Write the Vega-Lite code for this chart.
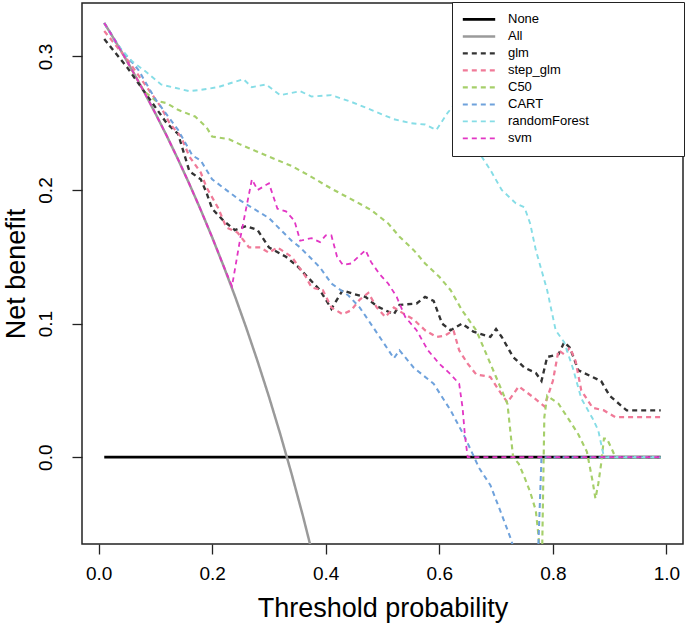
{
  "$schema": "https://vega.github.io/schema/vega-lite/v6.json",
  "width": 601,
  "height": 541,
  "autosize": {"type": "none"},
  "padding": {"left": 82, "top": 3, "right": 2, "bottom": 85},
  "background": "white",
  "config": {"view": {"stroke": "#222", "strokeWidth": 1.5}, "font": "Liberation Sans"},
  "datasets": {
    "curves": [
      {"model": "None", "pt": 0.01, "nb": 0}, {"model": "None", "pt": 0.99, "nb": 0},
      {"model": "All", "pt": 0.01, "nb": 0.325}, {"model": "All", "pt": 0.02, "nb": 0.3181}, {"model": "All", "pt": 0.04, "nb": 0.3039}, {"model": "All", "pt": 0.06, "nb": 0.289}, {"model": "All", "pt": 0.08, "nb": 0.2736}, {"model": "All", "pt": 0.1, "nb": 0.2574}, {"model": "All", "pt": 0.12, "nb": 0.2406}, {"model": "All", "pt": 0.14, "nb": 0.2229}, {"model": "All", "pt": 0.16, "nb": 0.2044}, {"model": "All", "pt": 0.18, "nb": 0.185}, {"model": "All", "pt": 0.2, "nb": 0.1646}, {"model": "All", "pt": 0.22, "nb": 0.1432}, {"model": "All", "pt": 0.24, "nb": 0.1207}, {"model": "All", "pt": 0.26, "nb": 0.0969}, {"model": "All", "pt": 0.28, "nb": 0.0718}, {"model": "All", "pt": 0.3, "nb": 0.0453}, {"model": "All", "pt": 0.32, "nb": 0.0172}, {"model": "All", "pt": 0.34, "nb": -0.0126}, {"model": "All", "pt": 0.36, "nb": -0.0442}, {"model": "All", "pt": 0.38, "nb": -0.0779}, {"model": "All", "pt": 0.4, "nb": -0.1138},
      {"model": "glm", "pt": 0.01, "nb": 0.313}, {"model": "glm", "pt": 0.05, "nb": 0.292}, {"model": "glm", "pt": 0.09, "nb": 0.268}, {"model": "glm", "pt": 0.12, "nb": 0.25}, {"model": "glm", "pt": 0.14, "nb": 0.242}, {"model": "glm", "pt": 0.15, "nb": 0.228}, {"model": "glm", "pt": 0.16, "nb": 0.214}, {"model": "glm", "pt": 0.18, "nb": 0.208}, {"model": "glm", "pt": 0.19, "nb": 0.198}, {"model": "glm", "pt": 0.2, "nb": 0.186}, {"model": "glm", "pt": 0.22, "nb": 0.177}, {"model": "glm", "pt": 0.24, "nb": 0.17}, {"model": "glm", "pt": 0.26, "nb": 0.173}, {"model": "glm", "pt": 0.28, "nb": 0.17}, {"model": "glm", "pt": 0.3, "nb": 0.157}, {"model": "glm", "pt": 0.33, "nb": 0.15}, {"model": "glm", "pt": 0.35, "nb": 0.143}, {"model": "glm", "pt": 0.37, "nb": 0.134}, {"model": "glm", "pt": 0.39, "nb": 0.125}, {"model": "glm", "pt": 0.41, "nb": 0.111}, {"model": "glm", "pt": 0.43, "nb": 0.125}, {"model": "glm", "pt": 0.45, "nb": 0.122}, {"model": "glm", "pt": 0.47, "nb": 0.12}, {"model": "glm", "pt": 0.49, "nb": 0.113}, {"model": "glm", "pt": 0.52, "nb": 0.107}, {"model": "glm", "pt": 0.53, "nb": 0.114}, {"model": "glm", "pt": 0.56, "nb": 0.115}, {"model": "glm", "pt": 0.575, "nb": 0.12}, {"model": "glm", "pt": 0.59, "nb": 0.117}, {"model": "glm", "pt": 0.605, "nb": 0.1}, {"model": "glm", "pt": 0.62, "nb": 0.095}, {"model": "glm", "pt": 0.64, "nb": 0.1}, {"model": "glm", "pt": 0.66, "nb": 0.094}, {"model": "glm", "pt": 0.69, "nb": 0.09}, {"model": "glm", "pt": 0.7, "nb": 0.096}, {"model": "glm", "pt": 0.71, "nb": 0.09}, {"model": "glm", "pt": 0.73, "nb": 0.075}, {"model": "glm", "pt": 0.75, "nb": 0.067}, {"model": "glm", "pt": 0.77, "nb": 0.063}, {"model": "glm", "pt": 0.78, "nb": 0.057}, {"model": "glm", "pt": 0.79, "nb": 0.075}, {"model": "glm", "pt": 0.81, "nb": 0.077}, {"model": "glm", "pt": 0.82, "nb": 0.086}, {"model": "glm", "pt": 0.83, "nb": 0.082}, {"model": "glm", "pt": 0.845, "nb": 0.065}, {"model": "glm", "pt": 0.87, "nb": 0.06}, {"model": "glm", "pt": 0.885, "nb": 0.057}, {"model": "glm", "pt": 0.9, "nb": 0.046}, {"model": "glm", "pt": 0.93, "nb": 0.035}, {"model": "glm", "pt": 0.99, "nb": 0.035},
      {"model": "step_glm", "pt": 0.01, "nb": 0.319}, {"model": "step_glm", "pt": 0.05, "nb": 0.298}, {"model": "step_glm", "pt": 0.08, "nb": 0.28}, {"model": "step_glm", "pt": 0.11, "nb": 0.262}, {"model": "step_glm", "pt": 0.125, "nb": 0.25}, {"model": "step_glm", "pt": 0.145, "nb": 0.24}, {"model": "step_glm", "pt": 0.16, "nb": 0.225}, {"model": "step_glm", "pt": 0.18, "nb": 0.213}, {"model": "step_glm", "pt": 0.19, "nb": 0.202}, {"model": "step_glm", "pt": 0.21, "nb": 0.187}, {"model": "step_glm", "pt": 0.225, "nb": 0.172}, {"model": "step_glm", "pt": 0.245, "nb": 0.168}, {"model": "step_glm", "pt": 0.265, "nb": 0.157}, {"model": "step_glm", "pt": 0.285, "nb": 0.157}, {"model": "step_glm", "pt": 0.3, "nb": 0.153}, {"model": "step_glm", "pt": 0.315, "nb": 0.157}, {"model": "step_glm", "pt": 0.34, "nb": 0.15}, {"model": "step_glm", "pt": 0.365, "nb": 0.135}, {"model": "step_glm", "pt": 0.375, "nb": 0.127}, {"model": "step_glm", "pt": 0.395, "nb": 0.125}, {"model": "step_glm", "pt": 0.41, "nb": 0.112}, {"model": "step_glm", "pt": 0.43, "nb": 0.107}, {"model": "step_glm", "pt": 0.445, "nb": 0.11}, {"model": "step_glm", "pt": 0.46, "nb": 0.118}, {"model": "step_glm", "pt": 0.475, "nb": 0.123}, {"model": "step_glm", "pt": 0.49, "nb": 0.112}, {"model": "step_glm", "pt": 0.505, "nb": 0.105}, {"model": "step_glm", "pt": 0.52, "nb": 0.112}, {"model": "step_glm", "pt": 0.535, "nb": 0.108}, {"model": "step_glm", "pt": 0.555, "nb": 0.103}, {"model": "step_glm", "pt": 0.575, "nb": 0.095}, {"model": "step_glm", "pt": 0.595, "nb": 0.09}, {"model": "step_glm", "pt": 0.61, "nb": 0.091}, {"model": "step_glm", "pt": 0.625, "nb": 0.095}, {"model": "step_glm", "pt": 0.635, "nb": 0.08}, {"model": "step_glm", "pt": 0.65, "nb": 0.07}, {"model": "step_glm", "pt": 0.665, "nb": 0.062}, {"model": "step_glm", "pt": 0.69, "nb": 0.06}, {"model": "step_glm", "pt": 0.705, "nb": 0.05}, {"model": "step_glm", "pt": 0.72, "nb": 0.041}, {"model": "step_glm", "pt": 0.74, "nb": 0.053}, {"model": "step_glm", "pt": 0.765, "nb": 0.045}, {"model": "step_glm", "pt": 0.785, "nb": 0.038}, {"model": "step_glm", "pt": 0.8, "nb": 0.057}, {"model": "step_glm", "pt": 0.81, "nb": 0.08}, {"model": "step_glm", "pt": 0.82, "nb": 0.077}, {"model": "step_glm", "pt": 0.83, "nb": 0.082}, {"model": "step_glm", "pt": 0.84, "nb": 0.072}, {"model": "step_glm", "pt": 0.85, "nb": 0.05}, {"model": "step_glm", "pt": 0.87, "nb": 0.037}, {"model": "step_glm", "pt": 0.89, "nb": 0.035}, {"model": "step_glm", "pt": 0.91, "nb": 0.03}, {"model": "step_glm", "pt": 0.99, "nb": 0.03},
      {"model": "C50", "pt": 0.01, "nb": 0.325}, {"model": "C50", "pt": 0.04, "nb": 0.304}, {"model": "C50", "pt": 0.06, "nb": 0.289}, {"model": "C50", "pt": 0.08, "nb": 0.274}, {"model": "C50", "pt": 0.1, "nb": 0.267}, {"model": "C50", "pt": 0.12, "nb": 0.265}, {"model": "C50", "pt": 0.14, "nb": 0.26}, {"model": "C50", "pt": 0.17, "nb": 0.255}, {"model": "C50", "pt": 0.19, "nb": 0.247}, {"model": "C50", "pt": 0.2, "nb": 0.24}, {"model": "C50", "pt": 0.23, "nb": 0.238}, {"model": "C50", "pt": 0.25, "nb": 0.234}, {"model": "C50", "pt": 0.3, "nb": 0.225}, {"model": "C50", "pt": 0.34, "nb": 0.218}, {"model": "C50", "pt": 0.37, "nb": 0.211}, {"model": "C50", "pt": 0.41, "nb": 0.201}, {"model": "C50", "pt": 0.45, "nb": 0.192}, {"model": "C50", "pt": 0.48, "nb": 0.185}, {"model": "C50", "pt": 0.51, "nb": 0.175}, {"model": "C50", "pt": 0.53, "nb": 0.165}, {"model": "C50", "pt": 0.555, "nb": 0.155}, {"model": "C50", "pt": 0.575, "nb": 0.145}, {"model": "C50", "pt": 0.6, "nb": 0.135}, {"model": "C50", "pt": 0.62, "nb": 0.125}, {"model": "C50", "pt": 0.64, "nb": 0.11}, {"model": "C50", "pt": 0.665, "nb": 0.095}, {"model": "C50", "pt": 0.68, "nb": 0.08}, {"model": "C50", "pt": 0.7, "nb": 0.06}, {"model": "C50", "pt": 0.71, "nb": 0.05}, {"model": "C50", "pt": 0.72, "nb": 0.04}, {"model": "C50", "pt": 0.73, "nb": 0.0}, {"model": "C50", "pt": 0.74, "nb": -0.005}, {"model": "C50", "pt": 0.75, "nb": -0.015}, {"model": "C50", "pt": 0.76, "nb": -0.026}, {"model": "C50", "pt": 0.77, "nb": -0.04}, {"model": "C50", "pt": 0.775, "nb": -0.06}, {"model": "C50", "pt": 0.78, "nb": -0.1}, {"model": "C50", "pt": 0.785, "nb": 0.03}, {"model": "C50", "pt": 0.79, "nb": 0.046}, {"model": "C50", "pt": 0.81, "nb": 0.04}, {"model": "C50", "pt": 0.83, "nb": 0.027}, {"model": "C50", "pt": 0.845, "nb": 0.017}, {"model": "C50", "pt": 0.86, "nb": 0.004}, {"model": "C50", "pt": 0.87, "nb": -0.018}, {"model": "C50", "pt": 0.875, "nb": -0.031}, {"model": "C50", "pt": 0.88, "nb": -0.02}, {"model": "C50", "pt": 0.885, "nb": -0.005}, {"model": "C50", "pt": 0.89, "nb": 0.014}, {"model": "C50", "pt": 0.895, "nb": 0.014}, {"model": "C50", "pt": 0.905, "nb": 0.005}, {"model": "C50", "pt": 0.91, "nb": 0.0}, {"model": "C50", "pt": 0.99, "nb": 0.0},
      {"model": "CART", "pt": 0.01, "nb": 0.325}, {"model": "CART", "pt": 0.04, "nb": 0.305}, {"model": "CART", "pt": 0.07, "nb": 0.29}, {"model": "CART", "pt": 0.1, "nb": 0.268}, {"model": "CART", "pt": 0.14, "nb": 0.245}, {"model": "CART", "pt": 0.165, "nb": 0.226}, {"model": "CART", "pt": 0.18, "nb": 0.222}, {"model": "CART", "pt": 0.2, "nb": 0.208}, {"model": "CART", "pt": 0.25, "nb": 0.192}, {"model": "CART", "pt": 0.3, "nb": 0.179}, {"model": "CART", "pt": 0.34, "nb": 0.162}, {"model": "CART", "pt": 0.355, "nb": 0.157}, {"model": "CART", "pt": 0.39, "nb": 0.142}, {"model": "CART", "pt": 0.41, "nb": 0.13}, {"model": "CART", "pt": 0.44, "nb": 0.121}, {"model": "CART", "pt": 0.46, "nb": 0.112}, {"model": "CART", "pt": 0.495, "nb": 0.09}, {"model": "CART", "pt": 0.52, "nb": 0.074}, {"model": "CART", "pt": 0.53, "nb": 0.08}, {"model": "CART", "pt": 0.555, "nb": 0.067}, {"model": "CART", "pt": 0.59, "nb": 0.055}, {"model": "CART", "pt": 0.62, "nb": 0.035}, {"model": "CART", "pt": 0.645, "nb": 0.015}, {"model": "CART", "pt": 0.67, "nb": -0.008}, {"model": "CART", "pt": 0.69, "nb": -0.021}, {"model": "CART", "pt": 0.71, "nb": -0.043}, {"model": "CART", "pt": 0.725, "nb": -0.06}, {"model": "CART", "pt": 0.74, "nb": -0.08}, {"model": "CART", "pt": 0.77, "nb": -0.12}, {"model": "CART", "pt": 0.78, "nb": 0.0}, {"model": "CART", "pt": 0.99, "nb": 0.0},
      {"model": "randomForest", "pt": 0.01, "nb": 0.325}, {"model": "randomForest", "pt": 0.03, "nb": 0.31}, {"model": "randomForest", "pt": 0.06, "nb": 0.296}, {"model": "randomForest", "pt": 0.085, "nb": 0.288}, {"model": "randomForest", "pt": 0.11, "nb": 0.279}, {"model": "randomForest", "pt": 0.13, "nb": 0.277}, {"model": "randomForest", "pt": 0.16, "nb": 0.274}, {"model": "randomForest", "pt": 0.18, "nb": 0.275}, {"model": "randomForest", "pt": 0.21, "nb": 0.277}, {"model": "randomForest", "pt": 0.24, "nb": 0.281}, {"model": "randomForest", "pt": 0.255, "nb": 0.283}, {"model": "randomForest", "pt": 0.27, "nb": 0.277}, {"model": "randomForest", "pt": 0.295, "nb": 0.279}, {"model": "randomForest", "pt": 0.32, "nb": 0.271}, {"model": "randomForest", "pt": 0.355, "nb": 0.274}, {"model": "randomForest", "pt": 0.375, "nb": 0.27}, {"model": "randomForest", "pt": 0.41, "nb": 0.271}, {"model": "randomForest", "pt": 0.445, "nb": 0.266}, {"model": "randomForest", "pt": 0.48, "nb": 0.26}, {"model": "randomForest", "pt": 0.52, "nb": 0.253}, {"model": "randomForest", "pt": 0.55, "nb": 0.25}, {"model": "randomForest", "pt": 0.575, "nb": 0.249}, {"model": "randomForest", "pt": 0.595, "nb": 0.245}, {"model": "randomForest", "pt": 0.615, "nb": 0.258}, {"model": "randomForest", "pt": 0.635, "nb": 0.268}, {"model": "randomForest", "pt": 0.65, "nb": 0.255}, {"model": "randomForest", "pt": 0.66, "nb": 0.24}, {"model": "randomForest", "pt": 0.67, "nb": 0.228}, {"model": "randomForest", "pt": 0.69, "nb": 0.215}, {"model": "randomForest", "pt": 0.71, "nb": 0.2}, {"model": "randomForest", "pt": 0.735, "nb": 0.19}, {"model": "randomForest", "pt": 0.75, "nb": 0.187}, {"model": "randomForest", "pt": 0.76, "nb": 0.175}, {"model": "randomForest", "pt": 0.77, "nb": 0.155}, {"model": "randomForest", "pt": 0.79, "nb": 0.125}, {"model": "randomForest", "pt": 0.805, "nb": 0.095}, {"model": "randomForest", "pt": 0.82, "nb": 0.086}, {"model": "randomForest", "pt": 0.835, "nb": 0.067}, {"model": "randomForest", "pt": 0.85, "nb": 0.044}, {"model": "randomForest", "pt": 0.87, "nb": 0.029}, {"model": "randomForest", "pt": 0.88, "nb": 0.02}, {"model": "randomForest", "pt": 0.885, "nb": 0.01}, {"model": "randomForest", "pt": 0.89, "nb": 0.0}, {"model": "randomForest", "pt": 0.99, "nb": 0.0},
      {"model": "svm", "pt": 0.01, "nb": 0.325}, {"model": "svm", "pt": 0.02, "nb": 0.3181}, {"model": "svm", "pt": 0.04, "nb": 0.3039}, {"model": "svm", "pt": 0.06, "nb": 0.289}, {"model": "svm", "pt": 0.08, "nb": 0.2736}, {"model": "svm", "pt": 0.1, "nb": 0.2574}, {"model": "svm", "pt": 0.12, "nb": 0.2406}, {"model": "svm", "pt": 0.14, "nb": 0.2229}, {"model": "svm", "pt": 0.16, "nb": 0.2044}, {"model": "svm", "pt": 0.18, "nb": 0.185}, {"model": "svm", "pt": 0.2, "nb": 0.1646}, {"model": "svm", "pt": 0.22, "nb": 0.1432}, {"model": "svm", "pt": 0.235, "nb": 0.128}, {"model": "svm", "pt": 0.25, "nb": 0.165}, {"model": "svm", "pt": 0.27, "nb": 0.208}, {"model": "svm", "pt": 0.28, "nb": 0.2}, {"model": "svm", "pt": 0.3, "nb": 0.205}, {"model": "svm", "pt": 0.315, "nb": 0.186}, {"model": "svm", "pt": 0.33, "nb": 0.184}, {"model": "svm", "pt": 0.345, "nb": 0.177}, {"model": "svm", "pt": 0.355, "nb": 0.162}, {"model": "svm", "pt": 0.375, "nb": 0.164}, {"model": "svm", "pt": 0.39, "nb": 0.161}, {"model": "svm", "pt": 0.4, "nb": 0.166}, {"model": "svm", "pt": 0.41, "nb": 0.166}, {"model": "svm", "pt": 0.42, "nb": 0.15}, {"model": "svm", "pt": 0.43, "nb": 0.144}, {"model": "svm", "pt": 0.445, "nb": 0.145}, {"model": "svm", "pt": 0.47, "nb": 0.155}, {"model": "svm", "pt": 0.48, "nb": 0.146}, {"model": "svm", "pt": 0.495, "nb": 0.137}, {"model": "svm", "pt": 0.51, "nb": 0.13}, {"model": "svm", "pt": 0.525, "nb": 0.12}, {"model": "svm", "pt": 0.54, "nb": 0.105}, {"model": "svm", "pt": 0.56, "nb": 0.095}, {"model": "svm", "pt": 0.58, "nb": 0.08}, {"model": "svm", "pt": 0.6, "nb": 0.07}, {"model": "svm", "pt": 0.62, "nb": 0.062}, {"model": "svm", "pt": 0.635, "nb": 0.055}, {"model": "svm", "pt": 0.641, "nb": 0.037}, {"model": "svm", "pt": 0.645, "nb": 0.017}, {"model": "svm", "pt": 0.65, "nb": 0.0}, {"model": "svm", "pt": 0.99, "nb": 0.0}
    ]
  },
  "data": {"name": "curves"},
  "encoding": {
    "x": {
      "field": "pt", "type": "quantitative",
      "scale": {"domain": [-0.0292, 1.0292], "nice": false, "zero": false},
      "axis": {"values": [0, 0.2, 0.4, 0.6, 0.8, 1], "format": ".1f", "title": "Threshold probability", "grid": false, "domain": false, "ticks": true, "tickSize": 10, "tickColor": "#222", "tickWidth": 1.3, "labelFontSize": 19, "labelColor": "black", "labelPadding": 10, "labelFlush": false, "titleFontSize": 27, "titleFontWeight": "normal", "titleColor": "black", "titlePadding": 12}
    },
    "y": {
      "field": "nb", "type": "quantitative",
      "scale": {"domain": [-0.065, 0.34], "nice": false, "zero": false},
      "axis": {"values": [0, 0.1, 0.2, 0.3], "format": ".1f", "title": "Net benefit", "grid": false, "domain": false, "tickSize": 10, "tickColor": "#222", "tickWidth": 1.3, "labelFontSize": 19, "labelColor": "black", "labelAngle": -90, "labelAlign": "center", "labelBaseline": "bottom", "labelPadding": 17, "labelFlush": false, "titleFontSize": 27, "titleFontWeight": "normal", "titleColor": "black", "titlePadding": 6}
    },
    "color": {
      "field": "model", "type": "nominal",
      "scale": {"domain": ["None", "All", "glm", "step_glm", "C50", "CART", "randomForest", "svm"], "range": ["#000000", "#9a9a9a", "#333333", "#f07a98", "#a6cf6a", "#6fa2dc", "#86dde6", "#e236c4"]},
      "legend": {"orient": "none", "legendX": 370, "legendY": -1, "title": null, "strokeColor": "#222", "fillColor": "white", "padding": 9, "symbolType": "stroke", "symbolSize": 1050, "clipHeight": 16.8, "labelFontSize": 13, "labelColor": "black", "labelLimit": 400, "labelOffset": 11, "rowPadding": 0, "labelExpr": "pad(datum.label, 33, '\u00a0') + '\u2800'"}
    },
    "strokeDash": {
      "field": "model", "type": "nominal",
      "scale": {"domain": ["None", "All", "glm", "step_glm", "C50", "CART", "randomForest", "svm"], "range": [[1, 0], [1, 0], [5, 4], [5, 4], [5, 4], [5, 4], [5, 4], [5, 4]]},
      "legend": {"orient": "none", "legendX": 370, "legendY": -1, "title": null, "strokeColor": "#222", "fillColor": "white", "padding": 9, "symbolType": "stroke", "symbolSize": 1050, "clipHeight": 16.8, "labelFontSize": 13, "labelColor": "black", "labelLimit": 400, "labelOffset": 11, "rowPadding": 0, "labelExpr": "pad(datum.label, 33, '\u00a0') + '\u2800'"}
    },
    "strokeWidth": {
      "field": "model", "type": "nominal",
      "scale": {"domain": ["None", "All", "glm", "step_glm", "C50", "CART", "randomForest", "svm"], "range": [2.6, 1.8, 1.2, 1.2, 1.2, 1.2, 1.2, 1.3]},
      "legend": {"orient": "none", "legendX": 370, "legendY": -1, "title": null, "strokeColor": "#222", "fillColor": "white", "padding": 9, "symbolType": "stroke", "symbolSize": 1050, "clipHeight": 16.8, "labelFontSize": 13, "labelColor": "black", "labelLimit": 400, "labelOffset": 11, "rowPadding": 0, "labelExpr": "pad(datum.label, 33, '\u00a0') + '\u2800'"}
    }
  },
  "layer": [
    {"transform": [{"filter": "datum.model == 'None' || datum.model == 'All'"}], "mark": {"type": "line", "clip": true}},
    {"transform": [{"filter": "datum.model != 'None' && datum.model != 'All'"}], "mark": {"type": "line", "clip": true}}
  ]
}
